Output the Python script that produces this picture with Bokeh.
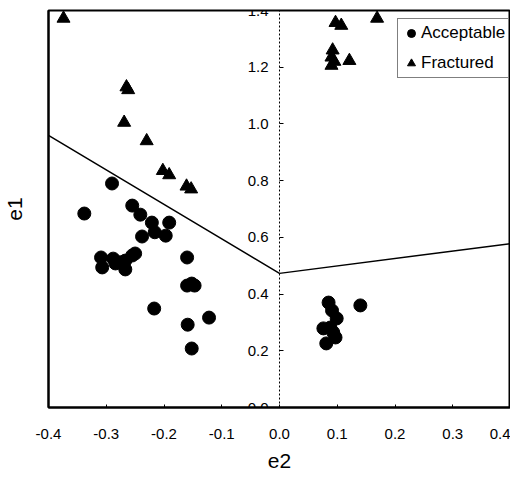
from bokeh.plotting import figure
from bokeh.models import LinearAxis, FixedTicker, PrintfTickFormatter, Range1d, Legend, LegendItem
from bokeh.embed import file_html
from bokeh.resources import INLINE

# Acceptable samples (e2, e1)
acc_e2 = [-0.338, -0.290, -0.255, -0.241, -0.221, -0.216, -0.191, -0.197, -0.238,
          -0.309, -0.307, -0.288, -0.284, -0.276, -0.267, -0.267, -0.255, -0.250,
          -0.160, -0.160, -0.147, -0.152, -0.217, -0.122, -0.159, -0.152,
          0.085, 0.091, 0.099, 0.076, 0.088, 0.097, 0.081, 0.093, 0.140]
acc_e1 = [0.684, 0.790, 0.712, 0.680, 0.652, 0.618, 0.652, 0.606, 0.603,
          0.529, 0.494, 0.525, 0.508, 0.512, 0.518, 0.487, 0.536, 0.543,
          0.529, 0.430, 0.430, 0.437, 0.349, 0.317, 0.292, 0.208,
          0.370, 0.342, 0.314, 0.279, 0.282, 0.247, 0.226, 0.265, 0.360]

# Fractured samples (e2, e1)
fr_e2 = [-0.374, -0.265, -0.262, -0.269, -0.230, -0.202, -0.191, -0.161, -0.153,
         0.097, 0.107, 0.169, 0.092, 0.090, 0.090, 0.095, 0.121]
fr_e1 = [1.372, 1.130, 1.120, 1.005, 0.940, 0.835, 0.820, 0.780, 0.770,
         1.357, 1.347, 1.372, 1.260, 1.235, 1.206, 1.220, 1.223]

# Boundary line
bound_e2 = [-0.4, 0.0, 0.4]
bound_e1 = [0.96, 0.473, 0.578]

x_ticks = [-0.4, -0.3, -0.2, -0.1, 0.0, 0.1, 0.2, 0.3, 0.4]
y_ticks = [0.0, 0.2, 0.4, 0.6, 0.8, 1.0, 1.2, 1.4]

FONT = "Liberation Sans"

p = figure(frame_width=462, frame_height=397, output_backend="svg", toolbar_location=None,
           x_range=Range1d(-0.4, 0.4), y_range=Range1d(0.0, 1.4),
           min_border_left=48, min_border_right=0, min_border_top=10, min_border_bottom=73)
p.grid.visible = False
p.outline_line_color = "black"
p.outline_line_width = 2
p.background_fill_color = "white"
p.border_fill_color = "white"

# x axis
xa = p.xaxis[0]
xa.ticker = FixedTicker(ticks=x_ticks)
xa.formatter = PrintfTickFormatter(format="%.1f")
xa.axis_label = "e2"
xa.axis_label_text_font = FONT
xa.axis_label_text_font_size = "21px"
xa.axis_label_text_font_style = "normal"
xa.axis_label_text_color = "black"
xa.axis_label_standoff = 12
xa.major_label_text_font = FONT
xa.major_label_text_font_size = "15px"
xa.major_label_text_color = "black"
xa.major_label_standoff = 21
xa.major_tick_in = 3
xa.major_tick_out = 0
xa.minor_tick_line_color = None
xa.axis_line_color = "black"
xa.axis_line_width = 2

# y axis at e2 = 0
ya = p.yaxis[0]
ya.fixed_location = 0
ya.ticker = FixedTicker(ticks=y_ticks)
ya.formatter = PrintfTickFormatter(format="%.1f")
ya.major_label_text_font = FONT
ya.major_label_text_font_size = "15px"
ya.major_label_text_color = "black"
ya.major_label_standoff = 11
ya.major_tick_in = 4
ya.major_tick_out = 0
ya.minor_tick_line_color = None
ya.axis_line_color = "black"
ya.axis_line_dash = "2 2"
ya.axis_line_width = 1

# left axis carrying the title only
ta = LinearAxis(ticker=FixedTicker(ticks=[]), axis_label="e1")
ta.axis_label_text_font = FONT
ta.axis_label_text_font_size = "21px"
ta.axis_label_text_font_style = "normal"
ta.axis_label_text_color = "black"
ta.axis_label_standoff = 27
ta.axis_line_color = "black"
ta.axis_line_width = 2
ta.major_tick_line_color = None
ta.minor_tick_line_color = None
p.add_layout(ta, "left")

p.line(bound_e2, bound_e1, line_color="black", line_width=1.5)
r_acc = p.scatter(acc_e2, acc_e1, marker="circle", size=13, fill_color="black", line_color="black")
r_fr = p.scatter(fr_e2, fr_e1, marker="triangle", size=13, fill_color="black", line_color="black")

legend = Legend(items=[LegendItem(label="Acceptable", renderers=[r_acc]),
                       LegendItem(label="Fractured", renderers=[r_fr])],
                location=(349, 329))
legend.margin = 0
legend.padding = 3
legend.spacing = 8
legend.glyph_width = 20
legend.glyph_height = 22
legend.label_height = 22
legend.label_standoff = 0
legend.label_text_font = FONT
legend.label_text_font_size = "17px"
legend.label_text_color = "black"
legend.border_line_color = "black"
legend.border_line_width = 1.5
legend.background_fill_alpha = 1
p.add_layout(legend, "center")

open("out.html", "w").write(file_html(p, INLINE))
